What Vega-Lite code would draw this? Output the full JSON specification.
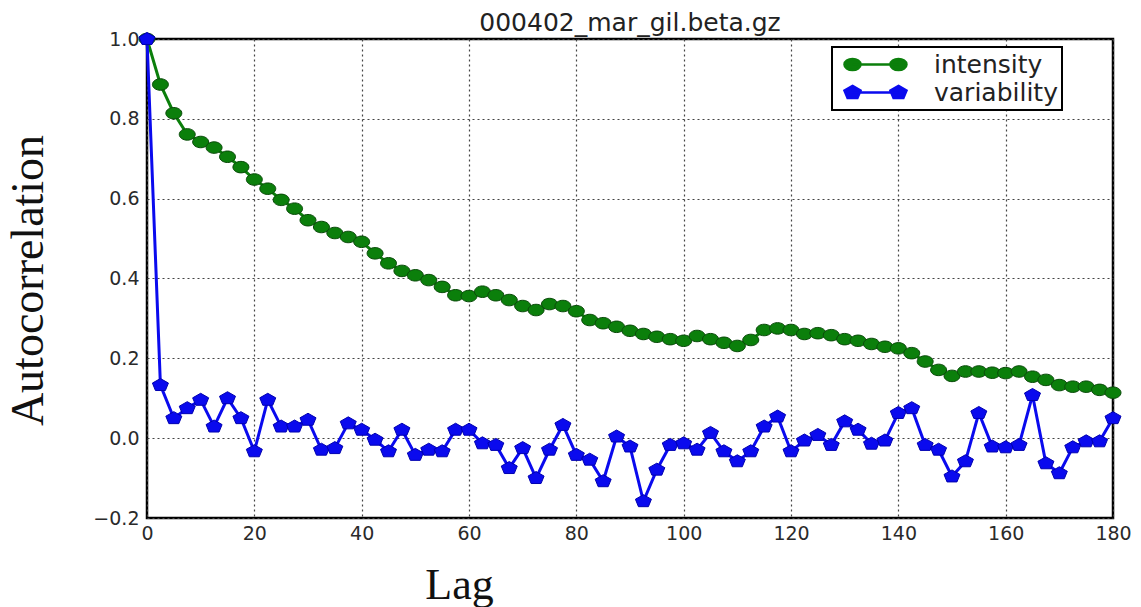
{
  "$schema": "https://vega.github.io/schema/vega-lite/v6.json",
  "width": 966,
  "height": 479,
  "autosize": "none",
  "padding": {"left": 147, "top": 39, "right": 28, "bottom": 89},
  "background": "white",
  "title": {"text": "000402_mar_gil.beta.gz", "font": "DejaVu Sans", "fontSize": 25, "fontWeight": "normal", "color": "#222222", "frame": "group", "offset": -6},
  "config": {
    "view": {"stroke": "black", "strokeWidth": 2.5},
    "axis": {"labelFont": "DejaVu Sans", "labelFontSize": 19, "labelColor": "#2a2a2a", "labelFlush": false, "labelOverlap": false, "domain": false, "ticks": false, "gridColor": "#444444", "gridDash": [2, 3], "gridWidth": 1.2, "gridOpacity": 1}
  },
  "data": {"values": [
    {"lag":0,"series":"intensity","value":1.0},{"lag":2.5,"series":"intensity","value":0.886},{"lag":5,"series":"intensity","value":0.814},{"lag":7.5,"series":"intensity","value":0.761},{"lag":10,"series":"intensity","value":0.742},{"lag":12.5,"series":"intensity","value":0.728},{"lag":15,"series":"intensity","value":0.705},{"lag":17.5,"series":"intensity","value":0.679},{"lag":20,"series":"intensity","value":0.648},{"lag":22.5,"series":"intensity","value":0.625},{"lag":25,"series":"intensity","value":0.597},{"lag":27.5,"series":"intensity","value":0.575},{"lag":30,"series":"intensity","value":0.546},{"lag":32.5,"series":"intensity","value":0.529},{"lag":35,"series":"intensity","value":0.514},{"lag":37.5,"series":"intensity","value":0.504},{"lag":40,"series":"intensity","value":0.492},{"lag":42.5,"series":"intensity","value":0.463},{"lag":45,"series":"intensity","value":0.438},{"lag":47.5,"series":"intensity","value":0.419},{"lag":50,"series":"intensity","value":0.408},{"lag":52.5,"series":"intensity","value":0.396},{"lag":55,"series":"intensity","value":0.379},{"lag":57.5,"series":"intensity","value":0.358},{"lag":60,"series":"intensity","value":0.356},{"lag":62.5,"series":"intensity","value":0.367},{"lag":65,"series":"intensity","value":0.358},{"lag":67.5,"series":"intensity","value":0.346},{"lag":70,"series":"intensity","value":0.331},{"lag":72.5,"series":"intensity","value":0.321},{"lag":75,"series":"intensity","value":0.336},{"lag":77.5,"series":"intensity","value":0.331},{"lag":80,"series":"intensity","value":0.318},{"lag":82.5,"series":"intensity","value":0.296},{"lag":85,"series":"intensity","value":0.288},{"lag":87.5,"series":"intensity","value":0.279},{"lag":90,"series":"intensity","value":0.269},{"lag":92.5,"series":"intensity","value":0.261},{"lag":95,"series":"intensity","value":0.254},{"lag":97.5,"series":"intensity","value":0.248},{"lag":100,"series":"intensity","value":0.244},{"lag":102.5,"series":"intensity","value":0.256},{"lag":105,"series":"intensity","value":0.248},{"lag":107.5,"series":"intensity","value":0.239},{"lag":110,"series":"intensity","value":0.231},{"lag":112.5,"series":"intensity","value":0.246},{"lag":115,"series":"intensity","value":0.271},{"lag":117.5,"series":"intensity","value":0.275},{"lag":120,"series":"intensity","value":0.271},{"lag":122.5,"series":"intensity","value":0.261},{"lag":125,"series":"intensity","value":0.263},{"lag":127.5,"series":"intensity","value":0.258},{"lag":130,"series":"intensity","value":0.248},{"lag":132.5,"series":"intensity","value":0.244},{"lag":135,"series":"intensity","value":0.236},{"lag":137.5,"series":"intensity","value":0.229},{"lag":140,"series":"intensity","value":0.225},{"lag":142.5,"series":"intensity","value":0.213},{"lag":145,"series":"intensity","value":0.192},{"lag":147.5,"series":"intensity","value":0.171},{"lag":150,"series":"intensity","value":0.156},{"lag":152.5,"series":"intensity","value":0.167},{"lag":155,"series":"intensity","value":0.167},{"lag":157.5,"series":"intensity","value":0.164},{"lag":160,"series":"intensity","value":0.163},{"lag":162.5,"series":"intensity","value":0.167},{"lag":165,"series":"intensity","value":0.154},{"lag":167.5,"series":"intensity","value":0.146},{"lag":170,"series":"intensity","value":0.133},{"lag":172.5,"series":"intensity","value":0.129},{"lag":175,"series":"intensity","value":0.129},{"lag":177.5,"series":"intensity","value":0.121},{"lag":180,"series":"intensity","value":0.114},
    {"lag":0,"series":"variability","value":1.0},{"lag":2.5,"series":"variability","value":0.133},{"lag":5,"series":"variability","value":0.05},{"lag":7.5,"series":"variability","value":0.075},{"lag":10,"series":"variability","value":0.096},{"lag":12.5,"series":"variability","value":0.029},{"lag":15,"series":"variability","value":0.1},{"lag":17.5,"series":"variability","value":0.05},{"lag":20,"series":"variability","value":-0.033},{"lag":22.5,"series":"variability","value":0.096},{"lag":25,"series":"variability","value":0.029},{"lag":27.5,"series":"variability","value":0.029},{"lag":30,"series":"variability","value":0.046},{"lag":32.5,"series":"variability","value":-0.029},{"lag":35,"series":"variability","value":-0.025},{"lag":37.5,"series":"variability","value":0.037},{"lag":40,"series":"variability","value":0.021},{"lag":42.5,"series":"variability","value":-0.004},{"lag":45,"series":"variability","value":-0.033},{"lag":47.5,"series":"variability","value":0.021},{"lag":50,"series":"variability","value":-0.042},{"lag":52.5,"series":"variability","value":-0.029},{"lag":55,"series":"variability","value":-0.033},{"lag":57.5,"series":"variability","value":0.021},{"lag":60,"series":"variability","value":0.021},{"lag":62.5,"series":"variability","value":-0.013},{"lag":65,"series":"variability","value":-0.017},{"lag":67.5,"series":"variability","value":-0.075},{"lag":70,"series":"variability","value":-0.025},{"lag":72.5,"series":"variability","value":-0.1},{"lag":75,"series":"variability","value":-0.029},{"lag":77.5,"series":"variability","value":0.033},{"lag":80,"series":"variability","value":-0.042},{"lag":82.5,"series":"variability","value":-0.054},{"lag":85,"series":"variability","value":-0.108},{"lag":87.5,"series":"variability","value":0.004},{"lag":90,"series":"variability","value":-0.021},{"lag":92.5,"series":"variability","value":-0.158},{"lag":95,"series":"variability","value":-0.079},{"lag":97.5,"series":"variability","value":-0.017},{"lag":100,"series":"variability","value":-0.013},{"lag":102.5,"series":"variability","value":-0.029},{"lag":105,"series":"variability","value":0.013},{"lag":107.5,"series":"variability","value":-0.033},{"lag":110,"series":"variability","value":-0.058},{"lag":112.5,"series":"variability","value":-0.033},{"lag":115,"series":"variability","value":0.029},{"lag":117.5,"series":"variability","value":0.054},{"lag":120,"series":"variability","value":-0.033},{"lag":122.5,"series":"variability","value":-0.006},{"lag":125,"series":"variability","value":0.008},{"lag":127.5,"series":"variability","value":-0.017},{"lag":130,"series":"variability","value":0.042},{"lag":132.5,"series":"variability","value":0.021},{"lag":135,"series":"variability","value":-0.014},{"lag":137.5,"series":"variability","value":-0.006},{"lag":140,"series":"variability","value":0.063},{"lag":142.5,"series":"variability","value":0.075},{"lag":145,"series":"variability","value":-0.017},{"lag":147.5,"series":"variability","value":-0.029},{"lag":150,"series":"variability","value":-0.096},{"lag":152.5,"series":"variability","value":-0.058},{"lag":155,"series":"variability","value":0.063},{"lag":157.5,"series":"variability","value":-0.021},{"lag":160,"series":"variability","value":-0.023},{"lag":162.5,"series":"variability","value":-0.017},{"lag":165,"series":"variability","value":0.108},{"lag":167.5,"series":"variability","value":-0.063},{"lag":170,"series":"variability","value":-0.088},{"lag":172.5,"series":"variability","value":-0.023},{"lag":175,"series":"variability","value":-0.008},{"lag":177.5,"series":"variability","value":-0.008},{"lag":180,"series":"variability","value":0.05}
  ]},
  "encoding": {
    "x": {"field": "lag", "type": "quantitative", "scale": {"domain": [0, 180], "nice": false, "zero": false},
      "axis": {"values": [0,20,40,60,80,100,120,140,160,180], "format": "d", "labelPadding": 6, "title": "Lag", "titleFont": "Liberation Serif", "titleFontSize": 44, "titleFontWeight": "normal", "titleColor": "#111111", "titleX": 312, "titleY": 80, "titleBaseline": "alphabetic", "titleAlign": "center"}},
    "y": {"field": "value", "type": "quantitative", "scale": {"domain": [-0.2, 1.0], "nice": false, "zero": false},
      "axis": {"values": [-0.2,0,0.2,0.4,0.6,0.8,1.0], "format": ".1f", "labelPadding": 8, "title": "Autocorrelation", "titleFont": "Liberation Serif", "titleFontSize": 46, "titleFontWeight": "normal", "titleColor": "#111111", "titleX": -105, "titleY": 241, "titleAngle": -90, "titleBaseline": "alphabetic", "titleAlign": "center"}}
  },
  "layer": [
    {
      "mark": {"type": "line", "strokeWidth": 3},
      "encoding": {
        "color": {"field": "series", "type": "nominal",
          "scale": {"domain": ["intensity", "variability"], "range": ["#0b7f0b", "#0a0aee"]},
          "legend": {
            "orient": "none", "legendX": 685, "legendY": 8, "title": null,
            "strokeColor": "black", "fillColor": "white", "padding": 4,
            "labelFont": "DejaVu Sans", "labelFontSize": 25, "labelColor": "#222222",
            "symbolSize": 576, "labelOffset": 71, "rowPadding": 1,
            "encode": {
              "legend": {"update": {"strokeWidth": {"value": 2}}},
              "symbols": {"update": {
                "shape": {"signal": "datum.value === 'intensity' ? 'M0.25,0 L4.08,0 M-0.42,0 A0.67,0.46 0 1,0 0.92,0 A0.67,0.46 0 1,0 -0.42,0 Z M3.41,0 A0.67,0.46 0 1,0 4.75,0 A0.67,0.46 0 1,0 3.41,0 Z' : 'M0.25,0 L4.08,0 M0.25,-0.55 L0.92,-0.17 L0.66,0.45 L-0.16,0.45 L-0.42,-0.17 Z M4.08,-0.55 L4.75,-0.17 L4.49,0.45 L3.67,0.45 L3.41,-0.17 Z'"},
                "fill": {"signal": "datum.value === 'intensity' ? '#0b7f0b' : '#0a0aee'"},
                "stroke": {"signal": "datum.value === 'intensity' ? '#0b7f0b' : '#0a0aee'"},
                "strokeWidth": {"value": 2.5},
                "opacity": {"value": 1}
              }}
            }
          }}
      }
    },
    {
      "transform": [{"filter": "datum.series === 'intensity'"}],
      "mark": {"type": "point", "filled": true, "size": 256, "opacity": 1, "strokeWidth": 1, "stroke": "#0a4a0a", "shape": "M-1,0 A1,0.72 0 1,0 1,0 A1,0.72 0 1,0 -1,0 Z"},
      "encoding": {
        "color": {"field": "series", "type": "nominal"}
      }
    },
    {
      "transform": [{"filter": "datum.series === 'variability'"}],
      "mark": {"type": "point", "filled": true, "size": 256, "opacity": 1, "strokeWidth": 1, "stroke": "#0000b0", "shape": "M0,-0.82 L1,-0.25 L0.62,0.68 L-0.62,0.68 L-1,-0.25 Z"},
      "encoding": {
        "color": {"field": "series", "type": "nominal"}
      }
    }
  ]
}
